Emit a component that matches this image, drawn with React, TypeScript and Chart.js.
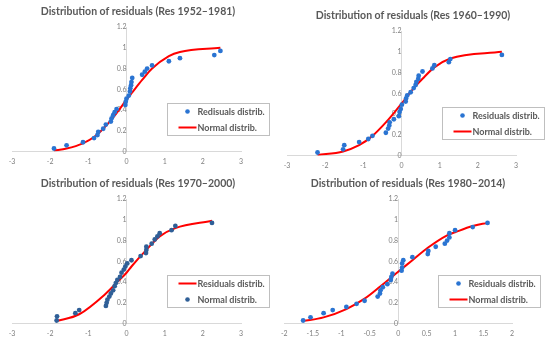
import React, { useEffect, useRef } from 'react';
import { Chart, registerables } from 'chart.js';
Chart.register(...registerables);

// ---------- Panel 1: Res 1952–1981 ----------
const resX1 = [-1.90, -1.57, -1.14, -0.85, -0.76, -0.74, -0.61, -0.54, -0.41, -0.39, -0.35, -0.31, -0.26, -0.03, -0.02, 0.00, 0.06, 0.09, 0.10, 0.12, 0.13, 0.15, 0.41, 0.48, 0.54, 0.67, 1.11, 1.40, 2.30, 2.46];
const resY1 = [0.03, 0.06, 0.09, 0.13, 0.16, 0.19, 0.22, 0.26, 0.29, 0.32, 0.35, 0.38, 0.41, 0.45, 0.48, 0.51, 0.54, 0.58, 0.61, 0.64, 0.67, 0.71, 0.74, 0.77, 0.80, 0.83, 0.87, 0.90, 0.93, 0.97];
const normX1 = [-1.90, -1.57, -1.14, -0.85, -0.61, -0.39, -0.20, 0.00, 0.15, 0.41, 0.67, 1.11, 1.40, 2.46];
const normY1 = [0.01, 0.03, 0.08, 0.14, 0.22, 0.31, 0.40, 0.50, 0.57, 0.69, 0.80, 0.92, 0.96, 1.00];

// ---------- Panel 2: Res 1960–1990 ----------
const resX2 = [-2.20, -1.53, -1.50, -1.11, -0.87, -0.76, -0.41, -0.35, -0.32, -0.31, -0.20, -0.07, -0.05, -0.02, 0.01, 0.11, 0.12, 0.15, 0.24, 0.32, 0.37, 0.39, 0.44, 0.45, 0.55, 0.81, 0.86, 1.24, 1.28, 2.63];
const resY2 = [0.03, 0.06, 0.10, 0.13, 0.16, 0.19, 0.22, 0.26, 0.29, 0.32, 0.35, 0.38, 0.42, 0.45, 0.49, 0.52, 0.55, 0.58, 0.61, 0.65, 0.68, 0.71, 0.74, 0.77, 0.81, 0.84, 0.87, 0.90, 0.93, 0.97];
const normX2 = [-2.20, -1.53, -1.11, -0.76, -0.41, -0.20, 0.00, 0.15, 0.32, 0.55, 0.86, 1.28, 2.63];
const normY2 = [0.005, 0.04, 0.10, 0.19, 0.32, 0.41, 0.50, 0.57, 0.65, 0.74, 0.85, 0.935, 1.00];

// ---------- Panel 3: Res 1970–2000 ----------
const resX3 = [-1.83, -1.82, -1.34, -1.24, -0.54, -0.52, -0.50, -0.45, -0.41, -0.35, -0.31, -0.28, -0.24, -0.17, -0.13, -0.07, -0.03, 0.02, 0.13, 0.37, 0.51, 0.52, 0.52, 0.66, 0.74, 0.81, 0.87, 1.18, 1.28, 2.24];
const resY3 = [0.03, 0.07, 0.10, 0.13, 0.17, 0.20, 0.23, 0.26, 0.29, 0.32, 0.36, 0.39, 0.42, 0.45, 0.49, 0.52, 0.55, 0.58, 0.61, 0.65, 0.68, 0.71, 0.74, 0.77, 0.81, 0.84, 0.87, 0.90, 0.94, 0.97];
const normX3 = [-1.83, -1.24, -0.54, -0.24, 0.00, 0.13, 0.52, 0.87, 1.28, 2.24];
const normY3 = [0.025, 0.09, 0.29, 0.40, 0.49, 0.55, 0.71, 0.84, 0.92, 0.99];

// ---------- Panel 4: Res 1980–2014 ----------
const resX4 = [-1.67, -1.54, -1.31, -1.15, -0.91, -0.73, -0.59, -0.36, -0.32, -0.31, -0.27, -0.19, -0.13, -0.12, -0.10, 0.06, 0.07, 0.07, 0.09, 0.25, 0.52, 0.53, 0.66, 0.82, 0.86, 0.90, 0.90, 1.00, 1.31, 1.57];
const resY4 = [0.03, 0.06, 0.10, 0.13, 0.16, 0.19, 0.22, 0.26, 0.29, 0.32, 0.35, 0.38, 0.42, 0.45, 0.48, 0.51, 0.54, 0.58, 0.61, 0.64, 0.67, 0.70, 0.74, 0.77, 0.80, 0.83, 0.87, 0.90, 0.93, 0.97];
const normX4 = [-1.67, -1.31, -0.91, -0.59, -0.31, 0.00, 0.25, 0.52, 0.86, 1.00, 1.31, 1.57];
const normY4 = [0.025, 0.06, 0.14, 0.24, 0.36, 0.50, 0.61, 0.73, 0.85, 0.88, 0.94, 0.97];

// ---------- Text ----------
const titles = [
  'Distribution of residuals (Res 1952\u20131981)',
  'Distribution of residuals (Res 1960\u20131990)',
  'Distribution of residuals (Res 1970\u20132000)',
  'Distribution of residuals (Res 1980\u20132014)',
];
const legendTexts1 = ['Redisuals distrib.', 'Normal distrib.'];
const legendTexts2 = ['Residuals distrib.', 'Normal distrib.'];
const legendTexts3 = ['Residuals distrib.', 'Normal distrib.'];
const legendTexts4 = ['Residuals distrib.', 'Normal distrib.'];
const xTicks123 = { min: -3, max: 3, step: 1 };
const xTicks4 = { min: -2, max: 2, step: 0.5 };
const yTicks = { min: 0, max: 1.2, step: 0.2 };

const FONT = "Lato, 'Liberation Sans', Arial, sans-serif";
const BLUE = '#2a74d2';
const DARKBLUE = '#2f5f97';
const RED = '#ff0000';

const fmt = (v: any) => String(Math.round(Number(v) * 10) / 10);

const boxLegend = {
  id: 'boxLegend',
  afterDraw(chart: any, _args: any, opts: any) {
    if (!opts || !opts.items) return;
    const ctx = chart.ctx;
    const ca = chart.chartArea;
    ctx.save();
    // title
    ctx.fillStyle = '#595959';
    ctx.font = `bold 10.5px ${FONT}`;
    ctx.textAlign = 'center';
    ctx.textBaseline = 'middle';
    ctx.fillText(opts.title, chart.width / 2 + opts.titleDx, opts.titleY);

    const left = Math.round(ca.right - 74) + 0.5;
    const top = Math.round(ca.bottom - 49) + 0.5;
    const w = 102;
    const h = 32;
    ctx.fillStyle = '#ffffff';
    ctx.fillRect(left, top, w, h);
    ctx.strokeStyle = '#bfbfbf';
    ctx.lineWidth = 1;
    ctx.strokeRect(left, top, w, h);
    opts.items.forEach((it: any, i: number) => {
      const y = top + 8 + i * 16;
      if (it.kind === 'dot') {
        ctx.fillStyle = it.color;
        ctx.beginPath();
        ctx.arc(left + 20, y, 2.3, 0, Math.PI * 2);
        ctx.fill();
      } else {
        ctx.strokeStyle = it.color;
        ctx.lineWidth = 2;
        ctx.beginPath();
        ctx.moveTo(left + 11, y);
        ctx.lineTo(left + 29, y);
        ctx.stroke();
      }
      ctx.fillStyle = '#595959';
      ctx.font = `bold 9px ${FONT}`;
      ctx.textBaseline = 'middle';
      ctx.textAlign = 'left';
      ctx.fillText(it.text, left + 30, y + 0.5);
    });
    ctx.restore();
  },
};

type PanelProps = {
  title: string;
  resX: number[];
  resY: number[];
  normX: number[];
  normY: number[];
  xr: { min: number; max: number; step: number };
  legend: { kind: string; color: string; text: string }[];
  dotColor: string;
  padding: { left: number; right: number; top: number; bottom: number };
  pos: { left: number; top: number };
  titleDx: number;
};

function Panel(p: PanelProps) {
  const ref = useRef<HTMLCanvasElement | null>(null);
  useEffect(() => {
    if (!ref.current) return;
    const pts = p.resX.map((x, i) => ({ x, y: p.resY[i] }));
    const line = p.normX.map((x, i) => ({ x, y: p.normY[i] }));
    const chart = new Chart(ref.current, {
      type: 'scatter',
      data: {
        datasets: [
          {
            label: 'line',
            data: line,
            showLine: true,
            borderColor: RED,
            backgroundColor: RED,
            borderWidth: 2,
            pointRadius: 0,
            cubicInterpolationMode: 'monotone',
            order: 2,
          } as any,
          {
            label: 'points',
            data: pts,
            pointRadius: 2.4,
            pointBorderWidth: 0,
            pointBackgroundColor: p.dotColor,
            backgroundColor: p.dotColor,
            borderColor: p.dotColor,
            order: 1,
          } as any,
        ],
      },
      options: {
        responsive: false,
        animation: false,
        layout: { padding: p.padding },
        plugins: {
          legend: { display: false },
          tooltip: { enabled: false },
          title: { display: false },
          boxLegend: { items: p.legend, title: p.title, titleDx: p.titleDx, titleY: 12 },
        } as any,
        scales: {
          x: {
            type: 'linear',
            position: 'bottom',
            min: p.xr.min,
            max: p.xr.max,
            grid: { display: false, drawTicks: false },
            border: { display: true, color: '#d9d9d9', width: 1 },
            ticks: {
              stepSize: p.xr.step,
              color: '#7f7f7f',
              font: { family: FONT, size: 7 },
              padding: 6,
              maxRotation: 0,
              callback: fmt,
            },
          },
          y: {
            type: 'linear',
            position: { x: 0 } as any,
            min: yTicks.min,
            max: yTicks.max,
            grid: { display: false, drawTicks: false },
            border: { display: true, color: '#d9d9d9', width: 1 },
            ticks: {
              stepSize: yTicks.step,
              color: '#7f7f7f',
              font: { family: FONT, size: 7 },
              padding: 8,
              callback: fmt,
            },
          },
        },
      },
      plugins: [boxLegend],
    });
    return () => chart.destroy();
  }, []);
  return (
    <div style={{ position: 'absolute', left: p.pos.left, top: p.pos.top, width: 275, height: 172 }}>
      <canvas ref={ref} width={275} height={172} style={{ width: 275, height: 172 }} />
    </div>
  );
}

export default function App() {
  return (
    <div style={{ position: 'fixed', left: 0, top: 0, width: 550, height: 344, background: '#ffffff', overflow: 'hidden' }}>
      <Panel
        title={titles[0]}
        resX={resX1} resY={resY1} normX={normX1} normY={normY1}
        xr={xTicks123}
        legend={[
          { kind: 'dot', color: BLUE, text: legendTexts1[0] },
          { kind: 'line', color: RED, text: legendTexts1[1] },
        ]}
        dotColor={BLUE}
        padding={{ left: 12, right: 34, top: 27, bottom: 0 }}
        pos={{ left: 0, top: 0 }}
        titleDx={0.5}
      />
      <Panel
        title={titles[1]}
        resX={resX2} resY={resY2} normX={normX2} normY={normY2}
        xr={xTicks123}
        legend={[
          { kind: 'dot', color: BLUE, text: legendTexts2[0] },
          { kind: 'line', color: RED, text: legendTexts2[1] },
        ]}
        dotColor={BLUE}
        padding={{ left: 12, right: 34, top: 27, bottom: 0 }}
        pos={{ left: 275, top: 4 }}
        titleDx={0.5}
      />
      <Panel
        title={titles[2]}
        resX={resX3} resY={resY3} normX={normX3} normY={normY3}
        xr={xTicks123}
        legend={[
          { kind: 'line', color: RED, text: legendTexts3[0] },
          { kind: 'dot', color: DARKBLUE, text: legendTexts3[1] },
        ]}
        dotColor={DARKBLUE}
        padding={{ left: 12, right: 34, top: 27, bottom: 0 }}
        pos={{ left: 0, top: 172 }}
        titleDx={0.5}
      />
      <Panel
        title={titles[3]}
        resX={resX4} resY={resY4} normX={normX4} normY={normY4}
        xr={xTicks4}
        legend={[
          { kind: 'dot', color: BLUE, text: legendTexts4[0] },
          { kind: 'line', color: RED, text: legendTexts4[1] },
        ]}
        dotColor={BLUE}
        padding={{ left: 3, right: 38, top: 27, bottom: 0 }}
        pos={{ left: 275, top: 172 }}
        titleDx={-4.5}
      />
    </div>
  );
}
